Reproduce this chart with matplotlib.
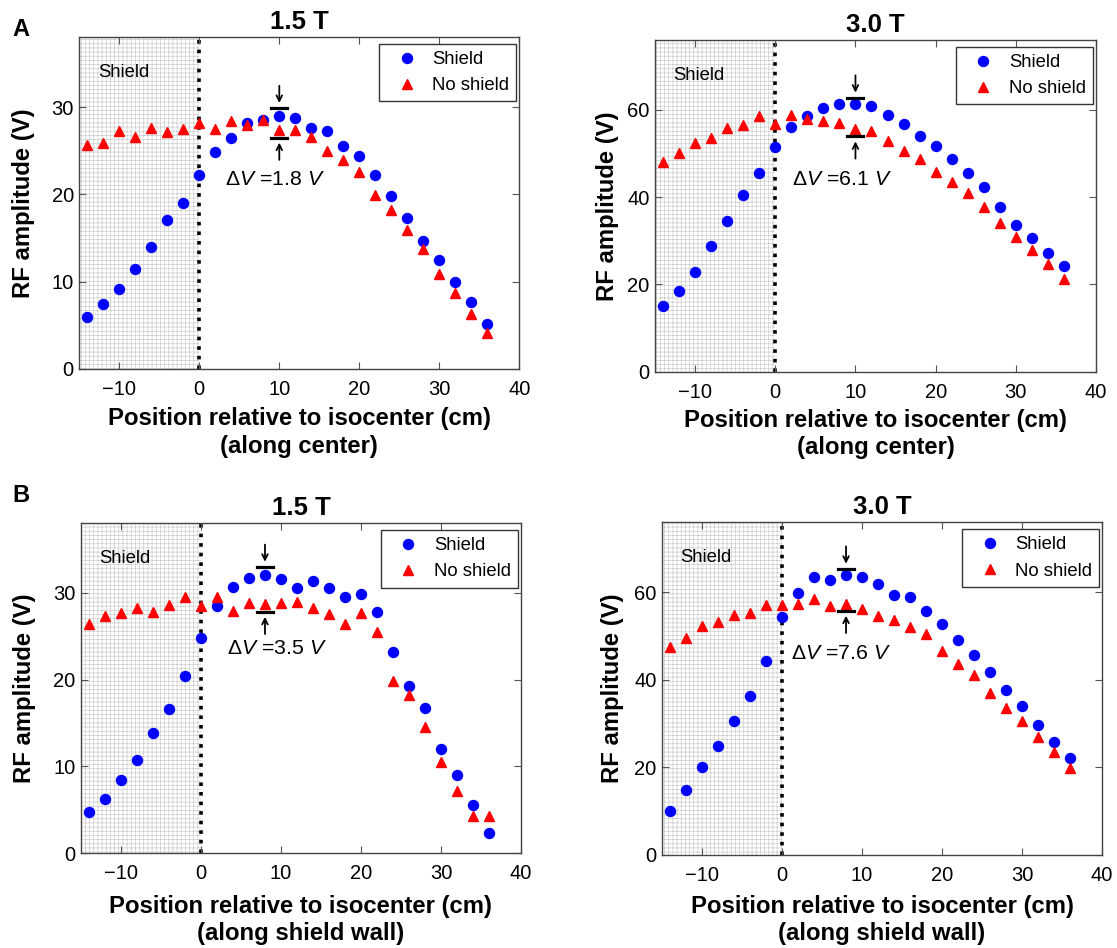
import matplotlib.pyplot as plt

plt.rcParams['font.family'] = ['Liberation Sans', 'DejaVu Sans']
plt.rcParams['mathtext.fontset'] = 'custom'
plt.rcParams['mathtext.rm'] = 'Liberation Sans'
plt.rcParams['mathtext.it'] = 'Liberation Sans:italic'
plt.rcParams['hatch.color'] = '#cccccc'
plt.rcParams['hatch.linewidth'] = 0.5

# posiciones a lo largo del eje (cm)
pos = list(range(-14, 37, 2))

# 1.5 T, along center
a15_shield = [5.9, 7.4, 9.2, 11.5, 14.0, 17.1, 19.0, 22.2, 24.9, 26.5, 28.2, 28.5, 29.0,
              28.8, 27.6, 27.3, 25.5, 24.4, 22.2, 19.8, 17.3, 14.7, 12.5, 10.0, 7.7, 5.1]
a15_noshield = [25.7, 25.9, 27.3, 26.6, 27.6, 27.2, 27.5, 28.2, 27.5, 28.4, 27.9, 28.5, 27.4,
                27.4, 26.6, 25.0, 23.9, 22.6, 19.9, 18.2, 15.9, 13.7, 10.9, 8.7, 6.3, 4.1]

# 3.0 T, along center
a30_shield = [15.1, 18.4, 22.9, 28.8, 34.5, 40.4, 45.4, 51.4, 56.0, 58.6, 60.4, 61.3, 61.4,
              60.9, 58.8, 56.8, 54.0, 51.7, 48.8, 45.4, 42.2, 37.8, 33.7, 30.5, 27.2, 24.1]
a30_noshield = [48.0, 50.0, 52.3, 53.6, 55.9, 56.6, 58.5, 56.7, 58.7, 57.8, 57.4, 57.0, 55.7,
                55.2, 52.9, 50.5, 48.8, 45.8, 43.5, 40.9, 37.7, 34.0, 30.8, 27.9, 24.6, 21.3]

# 1.5 T, along shield wall
b15_shield = [4.8, 6.3, 8.4, 10.7, 13.9, 16.6, 20.4, 24.8, 28.5, 30.7, 31.7, 32.0, 31.6,
              30.5, 31.4, 30.6, 29.5, 29.9, 27.8, 23.2, 19.3, 16.7, 12.0, 9.0, 5.6, 2.3]
b15_noshield = [26.4, 27.3, 27.7, 28.3, 27.8, 28.6, 29.5, 28.5, 29.5, 27.9, 28.8, 28.7, 28.8,
                28.9, 28.3, 27.6, 26.4, 27.7, 25.5, 19.8, 18.2, 14.6, 10.5, 7.2, 4.3, 4.3]

# 3.0 T, along shield wall
b30_shield = [10.1, 14.9, 20.1, 24.8, 30.6, 36.3, 44.3, 54.4, 59.9, 63.5, 62.9, 63.9, 63.6,
              61.9, 59.5, 58.9, 55.7, 52.8, 49.0, 45.6, 41.7, 37.7, 33.9, 29.7, 25.8, 22.2]
b30_noshield = [47.6, 49.6, 52.3, 53.1, 54.9, 55.3, 57.0, 57.0, 57.4, 58.5, 56.8, 57.4, 56.3,
                54.5, 53.7, 52.0, 50.4, 46.6, 43.5, 41.0, 36.9, 33.6, 30.5, 26.9, 23.5, 19.8]

titles = ['1.5 T', '3.0 T', '1.5 T', '3.0 T']
sublabels = ['(along center)', '(along center)', '(along shield wall)', '(along shield wall)']
ymax = [38, 76, 38, 76]
ystep = [10, 20, 10, 20]

# marcas de Delta V
delta_x = [10, 10, 8, 8]
bar_hi = [29.9, 62.8, 33.0, 65.4]
bar_lo = [26.5, 53.9, 27.8, 55.8]
delta_txt = ['1.8', '6.1', '3.5', '7.6']
txt_x = [3.2, 2.1, 3.2, 1.1]
txt_y = [21.7, 44.0, 23.6, 46.0]

# ejes en fracciones de la figura
boxes = [[0.0710, 0.6108, 0.3939, 0.3499],
         [0.5864, 0.6081, 0.3948, 0.3497],
         [0.0725, 0.0999, 0.3939, 0.3481],
         [0.5927, 0.0984, 0.3939, 0.3506]]
ylabpad = [12, 6, 12, 7]
xlabpad = [6, 5, 8, 7]

series = [(a15_shield, a15_noshield), (a30_shield, a30_noshield),
          (b15_shield, b15_noshield), (b30_shield, b30_noshield)]

fig = plt.figure(figsize=(11.17, 9.48), dpi=100)

for i in range(4):
    ax = fig.add_axes(boxes[i])
    sh, nsh = series[i]
    top = ymax[i]

    # zona del blindaje con rejilla
    ax.axvspan(-15, 0, facecolor='white', hatch='++++', linewidth=0, zorder=0)
    ax.axvline(0, color='k', linestyle=':', linewidth=2.6, zorder=1)
    ax.text(0.042, 0.893, 'Shield', transform=ax.transAxes, fontsize=13.3, va='center')

    ax.plot(pos, sh, 'o', color='blue', markersize=7.2, label='Shield', zorder=3)
    ax.plot(pos, nsh, '^', color='red', markersize=7.8, label='No shield', zorder=3)

    # barras y flechas
    dx = delta_x[i]
    gap = 0.015 * top
    alen = 0.052 * top
    ax.plot([dx - 1, dx + 1], [bar_hi[i], bar_hi[i]], color='k', lw=2.3, zorder=4)
    ax.plot([dx - 1, dx + 1], [bar_lo[i], bar_lo[i]], color='k', lw=2.3, zorder=4)
    ax.annotate('', xy=(dx, bar_hi[i] + gap), xytext=(dx, bar_hi[i] + gap + alen),
                arrowprops=dict(arrowstyle='->', color='k', lw=1.3, shrinkA=0, shrinkB=0))
    ax.annotate('', xy=(dx, bar_lo[i] - gap), xytext=(dx, bar_lo[i] - gap - alen),
                arrowprops=dict(arrowstyle='->', color='k', lw=1.3, shrinkA=0, shrinkB=0))
    ax.text(txt_x[i], txt_y[i], r'$\Delta V$ =' + delta_txt[i] + r' $V$', fontsize=15.3,
            va='center')

    ax.set_xlim(-15, 40)
    ax.set_ylim(0, top)
    ax.set_xticks(range(-10, 41, 10))
    ax.set_yticks(range(0, top, ystep[i]))
    ax.tick_params(direction='in', top=True, right=True, length=5, width=0.8,
                   labelsize=14.5, pad=4, color='#555555')
    ax.tick_params(axis='x', pad=8)
    for s in ax.spines.values():
        s.set_color('#444444')
        s.set_linewidth(1.0)

    ax.set_title(titles[i], fontsize=18.5, fontweight='bold', pad=6)
    ax.set_xlabel('Position relative to isocenter (cm)\n' + sublabels[i],
                  fontsize=17.2, fontweight='bold', labelpad=xlabpad[i], linespacing=1.25)
    ax.set_ylabel('RF amplitude (V)', fontsize=17.2, fontweight='bold', labelpad=ylabpad[i])

    leg = ax.legend(loc='upper right', fontsize=13.3, fancybox=False, framealpha=1,
                    edgecolor='#333333', handlelength=2.25, handletextpad=0.25,
                    labelspacing=0.5, borderpad=0.38, borderaxespad=0,
                    bbox_to_anchor=(0.993, 0.979))
    leg.get_frame().set_linewidth(1.0)

fig.text(0.011, 0.981, 'A', fontsize=17, fontweight='bold', va='top')
fig.text(0.011, 0.489, 'B', fontsize=17, fontweight='bold', va='top')

fig.savefig('out.png', dpi=100)
